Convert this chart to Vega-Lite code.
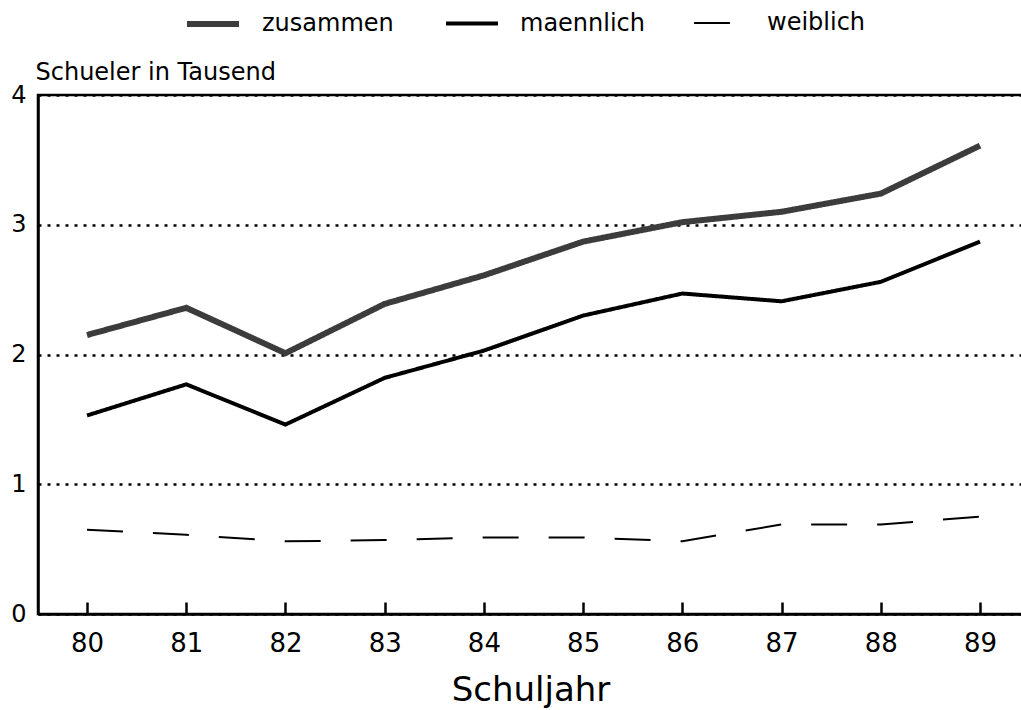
{
  "$schema": "https://vega.github.io/schema/vega-lite/v6.json",
  "width": 985,
  "height": 519,
  "autosize": "none",
  "padding": {"left": 38, "top": 95, "right": 0, "bottom": 96},
  "background": "white",
  "config": {
    "font": "DejaVu Sans",
    "view": {"stroke": "black", "strokeWidth": 2.5}
  },
  "data": {
    "values": [
      {"jahr": 80, "serie": "zusammen", "wert": 2.15},
      {"jahr": 81, "serie": "zusammen", "wert": 2.36},
      {"jahr": 82, "serie": "zusammen", "wert": 2.01},
      {"jahr": 83, "serie": "zusammen", "wert": 2.39},
      {"jahr": 84, "serie": "zusammen", "wert": 2.61},
      {"jahr": 85, "serie": "zusammen", "wert": 2.87},
      {"jahr": 86, "serie": "zusammen", "wert": 3.02},
      {"jahr": 87, "serie": "zusammen", "wert": 3.1},
      {"jahr": 88, "serie": "zusammen", "wert": 3.24},
      {"jahr": 89, "serie": "zusammen", "wert": 3.61},
      {"jahr": 80, "serie": "maennlich", "wert": 1.53},
      {"jahr": 81, "serie": "maennlich", "wert": 1.77},
      {"jahr": 82, "serie": "maennlich", "wert": 1.46},
      {"jahr": 83, "serie": "maennlich", "wert": 1.82},
      {"jahr": 84, "serie": "maennlich", "wert": 2.03},
      {"jahr": 85, "serie": "maennlich", "wert": 2.3},
      {"jahr": 86, "serie": "maennlich", "wert": 2.47},
      {"jahr": 87, "serie": "maennlich", "wert": 2.41},
      {"jahr": 88, "serie": "maennlich", "wert": 2.56},
      {"jahr": 89, "serie": "maennlich", "wert": 2.87},
      {"jahr": 80, "serie": "weiblich", "wert": 0.65},
      {"jahr": 81, "serie": "weiblich", "wert": 0.61},
      {"jahr": 82, "serie": "weiblich", "wert": 0.56},
      {"jahr": 83, "serie": "weiblich", "wert": 0.57},
      {"jahr": 84, "serie": "weiblich", "wert": 0.59},
      {"jahr": 85, "serie": "weiblich", "wert": 0.59},
      {"jahr": 86, "serie": "weiblich", "wert": 0.56},
      {"jahr": 87, "serie": "weiblich", "wert": 0.69},
      {"jahr": 88, "serie": "weiblich", "wert": 0.69},
      {"jahr": 89, "serie": "weiblich", "wert": 0.75}
    ]
  },
  "mark": {"type": "line", "strokeCap": "butt"},
  "encoding": {
    "x": {
      "field": "jahr",
      "type": "quantitative",
      "scale": {"domain": [79.506, 89.433], "nice": false, "zero": false},
      "axis": {
        "values": [80, 81, 82, 83, 84, 85, 86, 87, 88, 89],
        "format": "d",
        "grid": false,
        "tickSize": -12,
        "tickWidth": 2.5,
        "tickColor": "black",
        "domainColor": "black",
        "domainWidth": 2.5,
        "labelFontSize": 26,
        "labelColor": "black",
        "labelPadding": 28,
        "labelFlush": false,
        "title": "Schuljahr",
        "titleFontSize": 34,
        "titleFontWeight": "normal",
        "titleColor": "black",
        "titleY": 76,
        "titleBaseline": "middle"
      }
    },
    "y": {
      "field": "wert",
      "type": "quantitative",
      "scale": {"domain": [0, 4], "nice": false},
      "axis": {
        "values": [0, 1, 2, 3, 4],
        "ticks": false,
        "labelFontSize": 24,
        "labelColor": "black",
        "labelPadding": 12,
        "labelFlush": false,
        "domainColor": "black",
        "domainWidth": 2.5,
        "grid": true,
        "gridDash": [3, 6],
        "gridWidth": 2.5,
        "gridColor": "black",
        "gridOpacity": 1,
        "title": "Schueler in Tausend",
        "titleAngle": 0,
        "titleAlign": "left",
        "titleBaseline": "alphabetic",
        "titleX": -3,
        "titleY": -16,
        "titleFontSize": 24,
        "titleFontWeight": "normal",
        "titleColor": "black"
      }
    },
    "color": {
      "field": "serie",
      "type": "nominal",
      "scale": {"domain": ["zusammen", "maennlich", "weiblich"], "range": ["#3c3c3c", "black", "black"]},
      "legend": {
        "orient": "none",
        "legendX": 146,
        "legendY": -100,
        "direction": "horizontal",
        "title": null,
        "symbolType": "stroke",
        "symbolSize": 2704,
        "labelFontSize": 24,
        "labelColor": "black",
        "labelOffset": 20,
        "columnPadding": 44
      }
    },
    "strokeDash": {
      "field": "serie",
      "type": "nominal",
      "scale": {"domain": ["zusammen", "maennlich", "weiblich"], "range": [[1, 0], [1, 0], [36, 30]]},
      "legend": {"title": null}
    },
    "strokeWidth": {
      "field": "serie",
      "type": "ordinal",
      "scale": {"domain": ["zusammen", "maennlich", "weiblich"], "range": [6, 2, 2.5]},
      "legend": {"title": null}
    }
  }
}
